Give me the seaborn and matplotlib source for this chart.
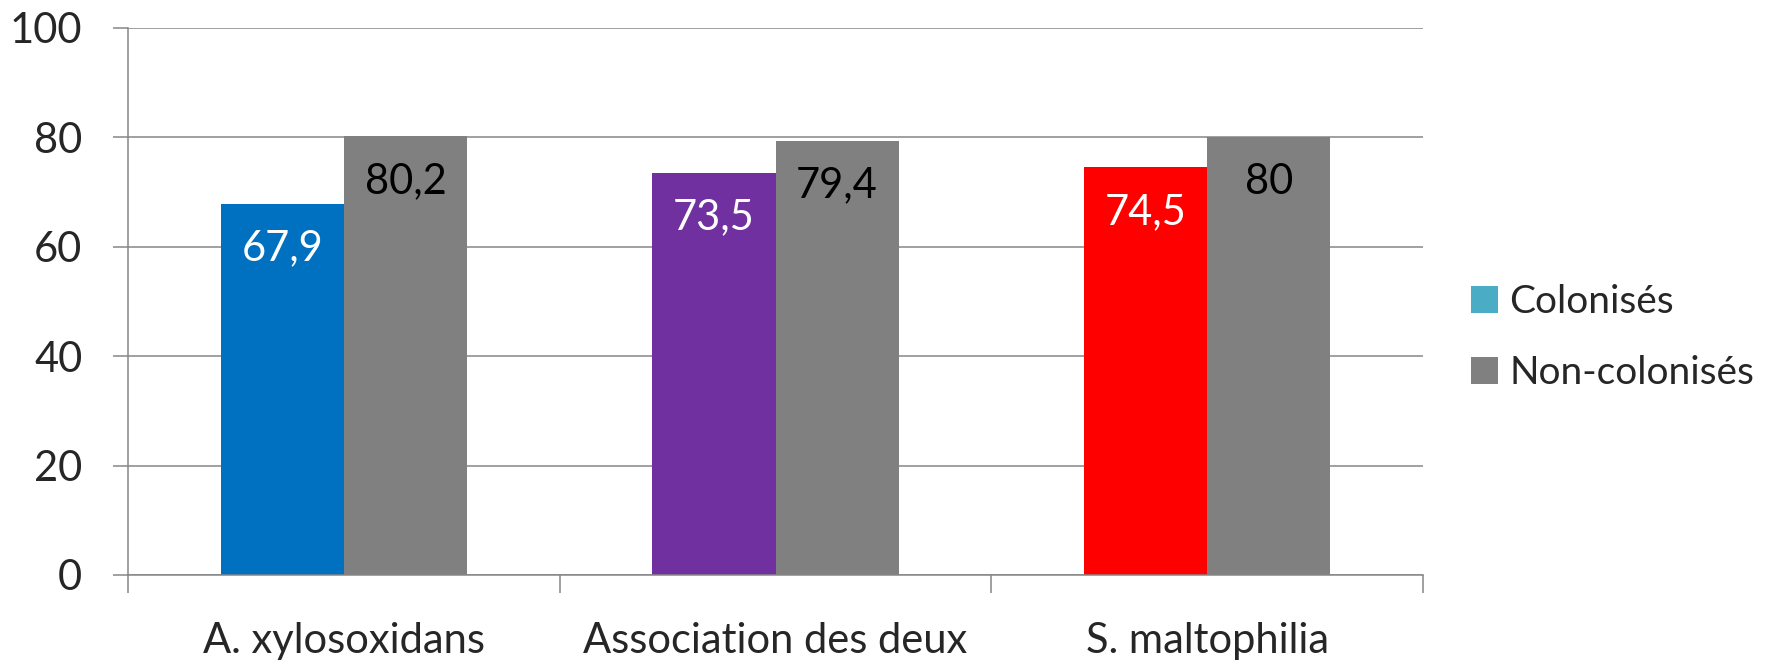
import pandas as pd
import matplotlib
matplotlib.use("Agg")
import matplotlib.pyplot as plt
import seaborn as sns
from matplotlib.patches import Patch

# Data
categories = ["A. xylosoxidans", "Association des deux", "S. maltophilia"]
colonises = [67.9, 73.5, 74.5]
non_colonises = [80.2, 79.4, 80]
groups = ["Colonisés", "Non-colonisés"]

bar_colors = ["#0070C0", "#7030A0", "#FF0000"]
gray = "#808080"
legend_colors = ["#4BACC6", gray]
axis_gray = "#868686"

df = pd.DataFrame({
    "Categorie": categories * 2,
    "Valeur": colonises + non_colonises,
    "Groupe": [groups[0]] * 3 + [groups[1]] * 3,
})

sns.set_style("white")
plt.rcParams["font.family"] = ["Lato", "DejaVu Sans"]
fs = 30

fig = plt.figure(figsize=(17.91, 6.6), dpi=100)
ax = fig.add_axes([0.0715, 0.1288, 0.723, 0.8288])

sns.barplot(data=df, x="Categorie", y="Valeur", hue="Groupe",
            palette=[bar_colors[0], gray], width=0.57, gap=0,
            saturation=1, legend=False, ax=ax)

# each Colonisés bar has its own colour
for patch, c in zip(ax.containers[0], bar_colors):
    patch.set_facecolor(c)
    patch.set_edgecolor("none")
for patch in ax.containers[1]:
    patch.set_edgecolor("none")

# value labels, just inside the top of the bars
for container, txt_color in zip(ax.containers, ["white", "black"]):
    for bar in container:
        v = bar.get_height()
        ax.annotate(f"{v:g}".replace(".", ","),
                    xy=(bar.get_x() + bar.get_width() / 2, v),
                    xytext=(0, -32), textcoords="offset points",
                    ha="center", va="center", fontsize=fs, color=txt_color)

ax.set_xlim(-0.5, 2.5)
ax.set_ylim(0, 100)
ax.set_yticks(range(0, 101, 20))
ax.yaxis.grid(True, color=axis_gray, lw=1.1)
ax.set_axisbelow(True)

# ticks between categories, labels centred under the groups
ax.set_xticks([-0.5, 0.5, 1.5, 2.5])
ax.set_xticklabels([])
ax.set_xticks([0, 1, 2], minor=True)
ax.set_xticklabels(categories, minor=True, fontsize=fs)
ax.tick_params(axis="x", which="major", length=13, width=1.1,
               color=axis_gray, direction="out", bottom=True)
ax.tick_params(axis="x", which="minor", length=0, pad=34)
ax.tick_params(axis="y", length=11, width=1.1, color=axis_gray,
               labelsize=fs, pad=22, left=True)
ax.set_xlabel("")
ax.set_ylabel("")

for s in ["top", "right"]:
    ax.spines[s].set_visible(False)
for s in ["left", "bottom"]:
    ax.spines[s].set_color(axis_gray)
    ax.spines[s].set_linewidth(1.1)

handles = [Patch(facecolor=c, edgecolor="none") for c in legend_colors]
fig.legend(handles, groups, loc="center left", bbox_to_anchor=(0.8213, 0.488),
           frameon=False, fontsize=28, borderpad=0, borderaxespad=0,
           handlelength=0.7, handleheight=0.7, handletextpad=0.28,
           labelspacing=0.9)

fig.savefig("out.png", dpi=100)
